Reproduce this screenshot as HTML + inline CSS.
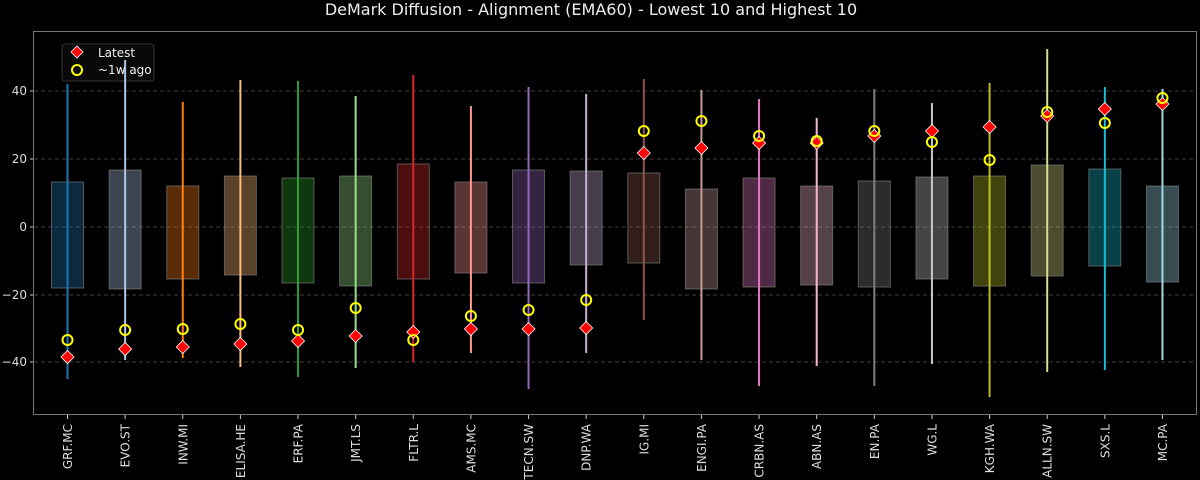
<!DOCTYPE html>
<html><head><meta charset="utf-8"><style>
html,body{margin:0;padding:0;background:#000;}
svg{display:block;font-family:"DejaVu Sans","Liberation Sans",sans-serif;}
</style></head><body>
<svg id="s" width="1200" height="480" xmlns="http://www.w3.org/2000/svg">
<rect width="1200" height="480" fill="#000"/>
<text x="591" y="15" fill="#eee" font-size="16" text-anchor="middle">DeMark Diffusion - Alignment (EMA60) - Lowest 10 and Highest 10</text>
<g stroke="#555" stroke-dasharray="4,3" stroke-width="0.8">
<line x1="34" x2="1196" y1="91" y2="91"/><line x1="34" x2="1196" y1="159" y2="159"/><line x1="34" x2="1196" y1="227" y2="227"/><line x1="34" x2="1196" y1="295" y2="295"/><line x1="34" x2="1196" y1="362" y2="362"/>
</g>
<g fill="#ddd" font-size="12" text-anchor="end">
<text x="27" y="95">40</text><text x="27" y="163">20</text><text x="27" y="231">0</text><text x="27" y="299">−20</text><text x="27" y="366">−40</text>
</g>
<g stroke="#ccc"><line x1="30" x2="34" y1="91" y2="91"/><line x1="30" x2="34" y1="159" y2="159"/><line x1="30" x2="34" y1="227" y2="227"/><line x1="30" x2="34" y1="295" y2="295"/><line x1="30" x2="34" y1="362" y2="362"/></g>
<g>
<rect x="62" y="44" width="92" height="37" rx="3" fill="#111" fill-opacity="0.55" stroke="#333"/>
</g>
<g id="d"></g>
<rect x="33.5" y="31.5" width="1163" height="383" fill="none" stroke="#777" stroke-width="1"/>
<g>
<polygon points="77,46 83,52 77,58 71,52" fill="#f00" stroke="#fff" stroke-width="0.8"/>
<circle cx="77" cy="70" r="5" fill="none" stroke="#ff0" stroke-width="2"/>
<text x="98" y="57" fill="#eee" font-size="12">Latest</text>
<text x="98" y="74" fill="#eee" font-size="12">~1w ago</text>
</g>
</svg>
<script>
var cols=["#1f77b4","#aec7e8","#ff7f0e","#ffbb78","#2ca02c","#98df8a","#d62728","#ff9896","#9467bd","#c5b0d5","#8c564b","#c49c94","#e377c2","#f7b6d2","#7f7f7f","#c7c7c7","#bcbd22","#dbdb8d","#17becf","#9edae5"];
var names=["GRF.MC","EVO.ST","INW.MI","ELISA.HE","ERF.PA","JMT.LS","FLTR.L","AMS.MC","TECN.SW","DNP.WA","IG.MI","ENGI.PA","CRBN.AS","ABN.AS","EN.PA","WG.L","KGH.WA","ALLN.SW","SXS.L","MC.PA"];
var d=[[84,379,182,288,357,340],[60,360,170,289,349,330],[102,358,186,279,347,329],[80,367,176,275,344,324],[81,377,178,283,341,330],[96,368,176,286,336,308],[75,362,164,279,332,340],[106,353,182,273,329,316],[87,389,170,283,329,310],[94,353,171,265,328,300],[79,320,173,263,153,131],[90,360,189,289,148,121],[99,386,178,287,143,136],[118,366,186,285,143,141],[89,386,181,287,136,131],[103,364,177,279,131,142],[83,397,176,286,127,160],[49,372,165,276,116,112],[87,370,169,266,109,123],[89,360,186,282,104,98]];
var g=document.getElementById("d"),h="";
for(var i=0;i<20;i++){var x=67.5+i*57.63,v=d[i],c=cols[i];
h+='<rect x="'+(x-16)+'" y="'+v[2]+'" width="32" height="'+(v[3]-v[2])+'" fill="'+c+'" fill-opacity="0.35" stroke="#888" stroke-opacity="0.6"/>';
h+='<line x1="'+x+'" x2="'+x+'" y1="'+v[0]+'" y2="'+v[1]+'" stroke="'+c+'" stroke-width="2"/>';
h+='<polygon points="'+x+','+(v[4]-6.5)+' '+(x+6.5)+','+v[4]+' '+x+','+(v[4]+6.5)+' '+(x-6.5)+','+v[4]+'" fill="#f00" stroke="#fff" stroke-width="0.8"/>';
h+='<circle cx="'+x+'" cy="'+v[5]+'" r="5" fill="none" stroke="#ff0" stroke-width="2"/>';
h+='<line x1="'+x+'" x2="'+x+'" y1="415" y2="419" stroke="#ccc"/>';
h+='<text transform="translate('+(x+4.5)+',424) rotate(-90)" text-anchor="end" fill="#ddd" font-size="12">'+names[i]+'</text>';}
g.innerHTML=h;
</script>
</body></html>
